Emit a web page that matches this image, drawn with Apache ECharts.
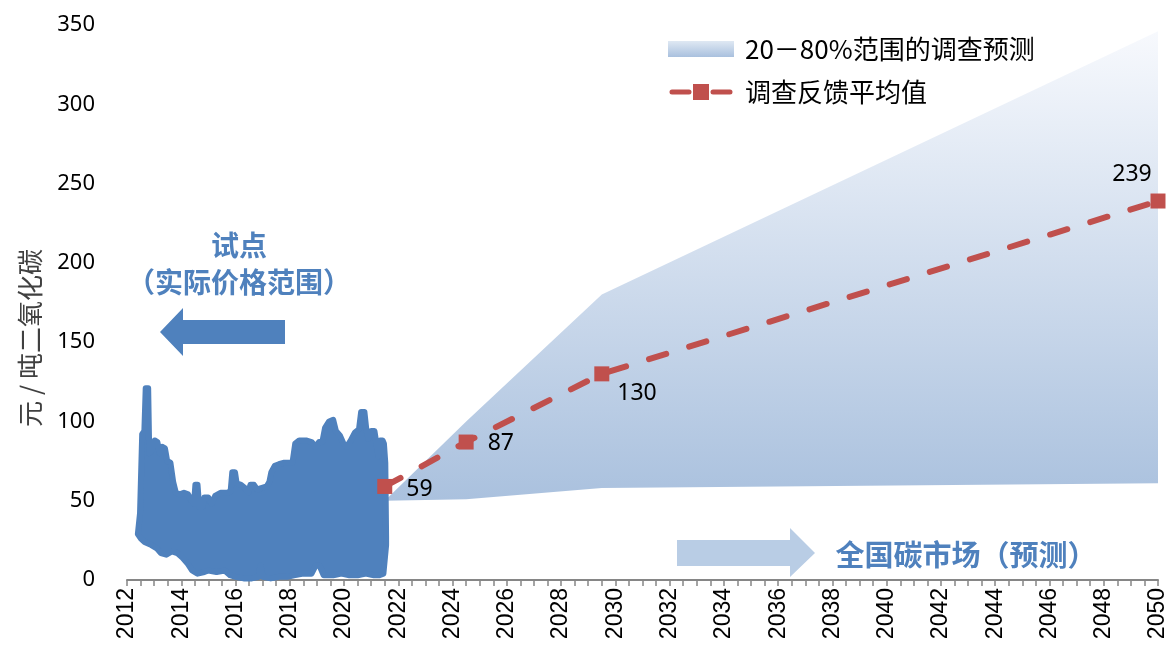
<!DOCTYPE html>
<html><head><meta charset="utf-8">
<script src="https://cdn.jsdelivr.net/npm/echarts@6/dist/echarts.min.js"></script>
<style>html,body{margin:0;padding:0;background:#fff}#c{width:1170px;height:651px}</style>
</head><body><div id="c"></div>
<script>
// ---- data ----
const yTicks = [0, 50, 100, 150, 200, 250, 300, 350];
const xRange = [2012, 2050];
// pilot actual price range (upper / lower envelope, yuan per tonne)
const pilotUpper = [[2012.40,29],[2012.48,42],[2012.56,92],[2012.64,94],[2012.69,121],[2012.78,121],[2012.82,80],[2012.92,82],[2013.02,88],[2013.12,87],[2013.2,80],[2013.3,84],[2013.4,83],[2013.48,75],[2013.6,74],[2013.7,62],[2013.8,55],[2013.95,54],[2014.1,55],[2014.25,54],[2014.38,50],[2014.47,48],[2014.52,60],[2014.6,60],[2014.66,46],[2014.78,46],[2014.85,52],[2015.0,52],[2015.12,48],[2015.25,53],[2015.45,55],[2015.7,55],[2015.82,56],[2015.88,68],[2015.98,68],[2016.04,61],[2016.2,60],[2016.35,58],[2016.47,55],[2016.55,60],[2016.68,60],[2016.8,57],[2016.95,58],[2017.15,59],[2017.25,62],[2017.32,68],[2017.45,72],[2017.6,73],[2017.8,74],[2018.1,74],[2018.2,86],[2018.35,88],[2018.6,88],[2018.8,87],[2018.95,84],[2019.08,87],[2019.2,87],[2019.3,96],[2019.45,100],[2019.6,101],[2019.7,94],[2019.85,91],[2019.98,86],[2020.1,84],[2020.25,88],[2020.4,93],[2020.55,95],[2020.63,106],[2020.75,106],[2020.82,95],[2020.9,89],[2021.0,94],[2021.12,94],[2021.2,85],[2021.27,78],[2021.33,88],[2021.42,88],[2021.47,86],[2021.52,74],[2021.55,27]];
const pilotLower = [[2012.40,29],[2012.52,26],[2012.65,24],[2012.9,22],[2013.1,20],[2013.25,17],[2013.45,16],[2013.65,18],[2013.85,17],[2014.05,14],[2014.25,10],[2014.4,6],[2014.6,4],[2014.85,5],[2015.0,6],[2015.3,5],[2015.6,6],[2015.8,3],[2016.0,2],[2016.3,1],[2016.6,1],[2016.85,2],[2016.92,9],[2017.0,2],[2017.3,1],[2017.6,2],[2017.9,2],[2018.15,3],[2018.5,4],[2018.8,4],[2018.95,9],[2019.1,9],[2019.25,3],[2019.6,3],[2019.9,4],[2020.2,3],[2020.5,3],[2020.8,4],[2021.1,3],[2021.3,3],[2021.45,4],[2021.55,22]];
// survey forecast 20-80% band
const bandYears = [2021.5, 2024.5, 2029.5, 2050];
const bandUpper = [50, 100, 180, 346];
const bandLower = [50, 51, 58, 61];
// survey mean
const meanYears = [2021.5, 2024.5, 2029.5, 2050];
const meanValues = [59, 87, 130, 239];

const BLUE = '#4F81BD', RED = '#C0504D';
const CJK = '"Noto Sans CJK SC", "Noto Sans", sans-serif';
const bandGradient = {type:'linear', x:0, y:0, x2:0, y2:1, colorStops:[{offset:0,color:'#f7f9fd'},{offset:1,color:'#aac1de'}]};
const legendGradient = {type:'linear', x:0, y:0, x2:0, y2:1, colorStops:[{offset:0,color:'#dfe8f3'},{offset:1,color:'#a9c0de'}]};

const chart = echarts.init(document.getElementById('c'), null, {renderer:'canvas'});

const labelOffsets = [
  {position:'right', distance:14, offset:[0,3]},
  {position:'right', distance:14, offset:[0,1]},
  {position:'right', distance:8, offset:[0,20]},
  {position:'top', distance:8, offset:[-26,0]}
];

chart.setOption({
  animation:false,
  grid:{left:127, right:12, top:25, bottom:71},
  xAxis:{
    type:'value', min:xRange[0], max:xRange[1], interval:0.5,
    axisLine:{show:true, lineStyle:{color:'#868686', width:2}},
    axisTick:{show:true, length:6, lineStyle:{color:'#868686', width:1.5}},
    splitLine:{show:false},
    axisLabel:{rotate:90, margin:8, color:'#000', fontSize:23, fontFamily:'"Liberation Sans", Arial, sans-serif',
      formatter:v => (Math.abs(v % 2) < 1e-9 ? String(v) : '')}
  },
  yAxis:{
    type:'value', min:yTicks[0], max:yTicks[yTicks.length-1], interval:50,
    axisLine:{show:false}, axisTick:{show:false}, splitLine:{show:false},
    axisLabel:{margin:32, color:'#000', fontSize:22, fontFamily:'"Noto Sans", sans-serif'}
  },
  legend:{
    orient:'vertical', left:663, top:31, itemGap:17, itemWidth:66, itemHeight:16,
    textStyle:{fontSize:26, color:'#000', fontFamily:CJK, padding:[0,0,0,6]},
    data:[
      {name:'20－80%范围的调查预测', icon:'rect', itemStyle:{color:legendGradient}},
      {name:'调查反馈平均值', icon:'path://M3,5.5h17a2.5,2.5 0 0 1 0,5h-17a2.5,2.5 0 0 1 0,-5z M24,0h16v16h-16z M44,5.5h17a2.5,2.5 0 0 1 0,5h-17a2.5,2.5 0 0 1 0,-5z', itemStyle:{color:RED}}
    ]
  },
  series:[
    {
      name:'20－80%范围的调查预测', type:'custom', z:1, clip:false,
      itemStyle:{color:legendGradient},
      data:[0],
      renderItem:(params, api) => {
        const pts = [];
        bandYears.forEach((y,i) => pts.push(api.coord([y, bandUpper[i]])));
        for (let i = bandYears.length-1; i >= 0; i--) pts.push(api.coord([bandYears[i], bandLower[i]]));
        return {type:'polygon', shape:{points:pts}, style:{fill:bandGradient}};
      }
    },
    {
      name:'试点', type:'custom', z:2, clip:false,
      itemStyle:{color:BLUE},
      data:[0],
      renderItem:(params, api) => {
        const pts = pilotUpper.map(p => api.coord(p));
        for (let i = pilotLower.length-1; i >= 0; i--) pts.push(api.coord(pilotLower[i]));
        return {type:'polygon', shape:{points:pts}, style:{fill:BLUE, stroke:BLUE, lineWidth:6, lineJoin:'round'}};
      }
    },
    {
      name:'调查反馈平均值', type:'line', z:3, clip:false,
      data: meanYears.map((y,i) => ({value:[y, meanValues[i]], label:labelOffsets[i]})),
      symbol:'rect', symbolSize:15,
      itemStyle:{color:RED},
      lineStyle:{color:RED, width:6, type:[18,24], cap:'round'},
      label:{show:true, color:'#000', fontSize:23, fontFamily:'"Noto Sans", sans-serif', formatter:p => String(p.value[1])}
    }
  ],
  graphic:[
    {type:'text', x:30, y:338, rotation:Math.PI/2, style:{text:'元 / 吨二氧化碳', fontSize:26, fill:'#404040', fontFamily:CJK, textAlign:'center', textVerticalAlign:'middle'}},
    {type:'text', x:239, y:245, style:{text:'试点', fontSize:28, fontWeight:'bold', fill:BLUE, fontFamily:CJK, textAlign:'center', textVerticalAlign:'middle'}},
    {type:'text', x:239, y:282, style:{text:'（实际价格范围）', fontSize:28, fontWeight:'bold', fill:BLUE, fontFamily:CJK, textAlign:'center', textVerticalAlign:'middle'}},
    {type:'polygon', shape:{points:[[160,332],[183,308],[183,320],[285,320],[285,344],[183,344],[183,356]]}, style:{fill:BLUE}},
    {type:'polygon', shape:{points:[[677,540],[790,540],[790,528],[815,553],[790,577],[790,566],[677,566]]}, style:{fill:'#B9CDE5'}},
    {type:'text', x:966, y:555, style:{text:'全国碳市场（预测）', fontSize:29, fontWeight:'bold', fill:BLUE, fontFamily:CJK, textAlign:'center', textVerticalAlign:'middle'}}
  ]
});
</script></body></html>
